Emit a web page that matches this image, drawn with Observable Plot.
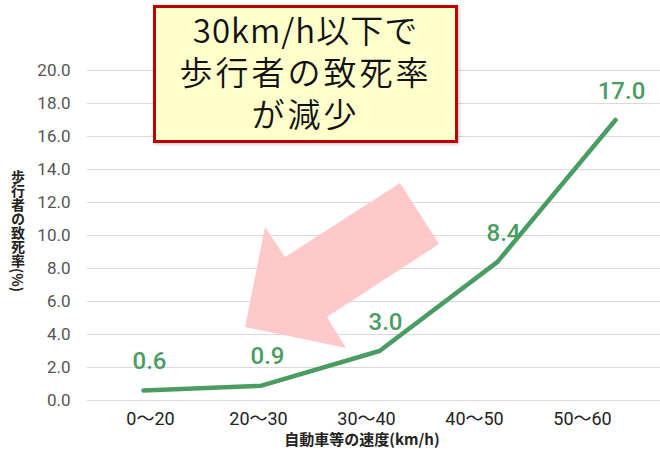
<!DOCTYPE html>
<html lang="ja">
<head>
<meta charset="utf-8">
<script src="https://cdn.jsdelivr.net/npm/d3@7"></script>
<script src="https://cdn.jsdelivr.net/npm/@observablehq/plot@0.6"></script>
<style>
  html, body { margin: 0; padding: 0; background: #fff; }
  #chart { position: relative; width: 660px; height: 452px; overflow: hidden; }
  #chart svg { position: absolute; left: 0; top: 0; }
  .ytitle {
    position: absolute; left: 10px; top: 170px;
    writing-mode: vertical-rl;
    font: 700 14px "Noto Sans CJK JP", sans-serif; color: #222;
    line-height: 16px;
  }
  .callout {
    position: absolute; left: 153px; top: 5px; width: 299px; height: 132px;
    background: #ffffcc; border: 3px solid #c00000;
    box-shadow: 1px 1px 3px rgba(0,0,0,0.25);
    font: 350 33px "Noto Sans CJK JP", sans-serif; color: #111;
    letter-spacing: 3px; text-align: center;
  }
  .callout div { height: 42px; line-height: 42px; }
  .callout div:first-child { letter-spacing: 1px; }
</style>
</head>
<body>
<div id="chart"></div>
<script>
// Pedestrian fatality rate by vehicle speed band
const speeds = ["0～20", "20～30", "30～40", "40～50", "50～60"];
const fatality = [0.6, 0.9, 3.0, 8.4, 17.0];
const yTicks = [0, 2, 4, 6, 8, 10, 12, 14, 16, 18, 20];
const xTitle = "自動車等の速度(km/h)";
const yTitle = "歩行者の致死率(%)";
const calloutLines = ["30km/h以下で", "歩行者の致死率", "が減少"];

const rows = speeds.map((s, i) => ({speed: s, rate: fatality[i]}));

const W = 660, H = 452;
const green = "#4a9d62";
const yScale = {domain: [0, 20], range: [400, 70]};
const font = "Roboto, 'Noto Sans CJK JP', sans-serif";

// Base layer: grid, axes and titles
const base = Plot.plot({
  width: W, height: H,
  marginLeft: 87, marginRight: 0, marginTop: 70, marginBottom: 52,
  style: {fontFamily: font, background: "transparent"},
  x: {type: "point", domain: speeds, range: [148, 583], padding: 0},
  y: yScale,
  marks: [
    Plot.ruleY(yTicks, {stroke: "#d9d9d9", strokeWidth: 1.2}),
    Plot.axisY(yTicks, {tickSize: 0, tickPadding: 17, fontSize: 17, fill: "#555",
      tickFormat: d => d.toFixed(1), label: null}),
    Plot.axisX({tickSize: 0, tickPadding: 12, fontSize: 18, fill: "#222", label: null}),
    Plot.text([xTitle], {frameAnchor: "bottom", dy: 44, dx: -12, fontSize: 15,
      fontWeight: 700, fill: "#222", fontFamily: "'Noto Sans CJK JP', sans-serif"})
  ]
});

// Callout arrow pointing toward the low-speed bands
d3.select(base).append("polygon")
  .attr("points", [[245,327],[265,227],[285,257],[400,183],[439,244],[327,317],[346,348]].map(p => p.join(",")).join(" "))
  .attr("fill", "#ffc4c4")
  .attr("fill-opacity", 0.92);

// Series layer: the fatality-rate line and its value labels
const series = Plot.plot({
  width: W, height: H,
  marginLeft: 87, marginRight: 0, marginTop: 70, marginBottom: 52,
  style: {fontFamily: font, background: "transparent"},
  x: {type: "point", domain: speeds, range: [143, 615], padding: 0, axis: null},
  y: {...yScale, axis: null},
  marks: [
    Plot.line(rows, {x: "speed", y: "rate", stroke: green, strokeWidth: 4.5,
      strokeLinejoin: "round", strokeLinecap: "round"}),
    Plot.text(rows, {x: "speed", y: "rate", text: d => d.rate.toFixed(1),
      dy: -29, dx: 6, fontSize: 24, fill: green, fontWeight: 500})
  ]
});

const root = document.getElementById("chart");
root.appendChild(base);
root.appendChild(series);

const yt = document.createElement("div");
yt.className = "ytitle";
yt.textContent = yTitle;
root.appendChild(yt);

const box = document.createElement("div");
box.className = "callout";
box.innerHTML = calloutLines.map(t => `<div>${t}</div>`).join("");
root.appendChild(box);
</script>
</body>
</html>
